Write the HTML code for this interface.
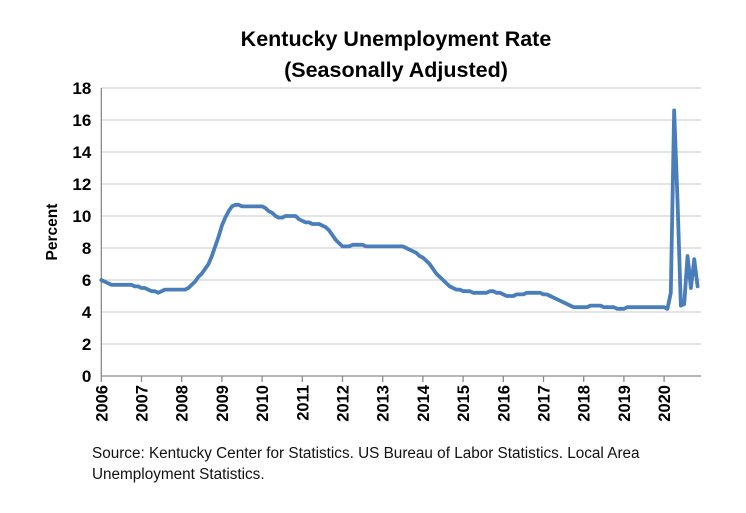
<!DOCTYPE html>
<html><head><meta charset="utf-8"><style>
body{margin:0;background:#fff;}
svg{display:block;font-family:"Liberation Sans",sans-serif;}
</style></head><body>
<svg id="chart" width="746" height="513">
<text x="396" y="46" text-anchor="middle" font-size="21.5" font-weight="bold">Kentucky Unemployment Rate</text>
<text x="396" y="77" text-anchor="middle" font-size="21.5" font-weight="bold">(Seasonally Adjusted)</text>
<text transform="translate(57,232) rotate(-90)" text-anchor="middle" font-size="15.5" font-weight="bold">Percent</text>
<g id="grid"></g><g id="axes"></g><g id="series"></g>
<text x="92" y="458" font-size="15.3" fill="#111">Source: Kentucky Center for Statistics. US Bureau of Labor Statistics. Local Area</text>
<text x="92" y="479" font-size="15.3" fill="#111">Unemployment Statistics.</text>
</svg>
<script>
const years = ["2006","2007","2008","2009","2010","2011","2012","2013","2014","2015","2016","2017","2018","2019","2020"];
const yTicks = [0,2,4,6,8,10,12,14,16,18];
const rate2006 = [6.0,5.9,5.8,5.7,5.7,5.7,5.7,5.7,5.7,5.7,5.6,5.6];
const rate2007 = [5.5,5.5,5.4,5.3,5.3,5.2,5.3,5.4,5.4,5.4,5.4,5.4];
const rate2008 = [5.4,5.4,5.5,5.7,5.9,6.2,6.4,6.7,7.0,7.5,8.1,8.7];
const rate2009 = [9.4,9.9,10.3,10.6,10.7,10.7,10.6,10.6,10.6,10.6,10.6,10.6];
const rate2010 = [10.6,10.5,10.3,10.2,10.0,9.9,9.9,10.0,10.0,10.0,10.0,9.8];
const rate2011 = [9.7,9.6,9.6,9.5,9.5,9.5,9.4,9.3,9.1,8.8,8.5,8.3];
const rate2012 = [8.1,8.1,8.1,8.2,8.2,8.2,8.2,8.1,8.1,8.1,8.1,8.1];
const rate2013 = [8.1,8.1,8.1,8.1,8.1,8.1,8.1,8.0,7.9,7.8,7.7,7.5];
const rate2014 = [7.4,7.2,7.0,6.7,6.4,6.2,6.0,5.8,5.6,5.5,5.4,5.4];
const rate2015 = [5.3,5.3,5.3,5.2,5.2,5.2,5.2,5.2,5.3,5.3,5.2,5.2];
const rate2016 = [5.1,5.0,5.0,5.0,5.1,5.1,5.1,5.2,5.2,5.2,5.2,5.2];
const rate2017 = [5.1,5.1,5.0,4.9,4.8,4.7,4.6,4.5,4.4,4.3,4.3,4.3];
const rate2018 = [4.3,4.3,4.4,4.4,4.4,4.4,4.3,4.3,4.3,4.3,4.2,4.2];
const rate2019 = [4.2,4.3,4.3,4.3,4.3,4.3,4.3,4.3,4.3,4.3,4.3,4.3];
const rate2020 = [4.3,4.2,5.2,16.6,11.0,4.4,4.5,7.5,5.5,7.3,5.6];
const rates = [].concat(rate2006,rate2007,rate2008,rate2009,rate2010,rate2011,rate2012,rate2013,rate2014,rate2015,rate2016,rate2017,rate2018,rate2019,rate2020);

const NS="http://www.w3.org/2000/svg";
const x0=101.3, yearW=40.2, yBase=376, unit=16;
const xPos = m => x0 + m*yearW/12;
const yPos = v => yBase - v*unit;
function mk(tag, parent, attrs){const e=document.createElementNS(NS,tag);for(const k in attrs)e.setAttribute(k,attrs[k]);parent.appendChild(e);return e;}
const grid=document.getElementById('grid'), axes=document.getElementById('axes'), series=document.getElementById('series');
const xEnd=701;
yTicks.forEach(t=>{
  if(t>0){const g=mk('line',grid,{x1:x0,x2:xEnd,y1:yPos(t),y2:yPos(t),stroke:'#d4d4d4','stroke-width':1.3});
  
  }
  const l=mk('text',axes,{x:x0-10,y:yPos(t)+6,'text-anchor':'end','font-size':17,'font-weight':'bold'});
  l.textContent=t;
  
  
});
const ya=mk('line',axes,{x1:x0,x2:x0,y1:yPos(18),y2:yBase,stroke:'#8a8a8a','stroke-width':1.3});


const xa=mk('line',axes,{x1:x0,x2:xEnd,y1:yBase,y2:yBase,stroke:'#8a8a8a','stroke-width':1.3});


years.forEach((yr,i)=>{
  const x=xPos(i*12);
  mk('line',axes,{x1:x,x2:x,y1:yBase,y2:yBase+6,stroke:'#8a8a8a','stroke-width':1.3});
  const t=mk('text',axes,{transform:`translate(${x+6},${yBase+9}) rotate(-90)`,'text-anchor':'end','font-size':16.5,'font-weight':'bold'});
  t.textContent=yr;
  
  
});
const d=rates.map((v,i)=>(i?'L':'M')+xPos(i).toFixed(2)+','+yPos(v).toFixed(2)).join(' ');
const p=mk('path',series,{d:d,fill:'none',stroke:'#4a7ebb','stroke-width':3.8,'stroke-linejoin':'round','stroke-linecap':'round'});


</script>
</body></html>
